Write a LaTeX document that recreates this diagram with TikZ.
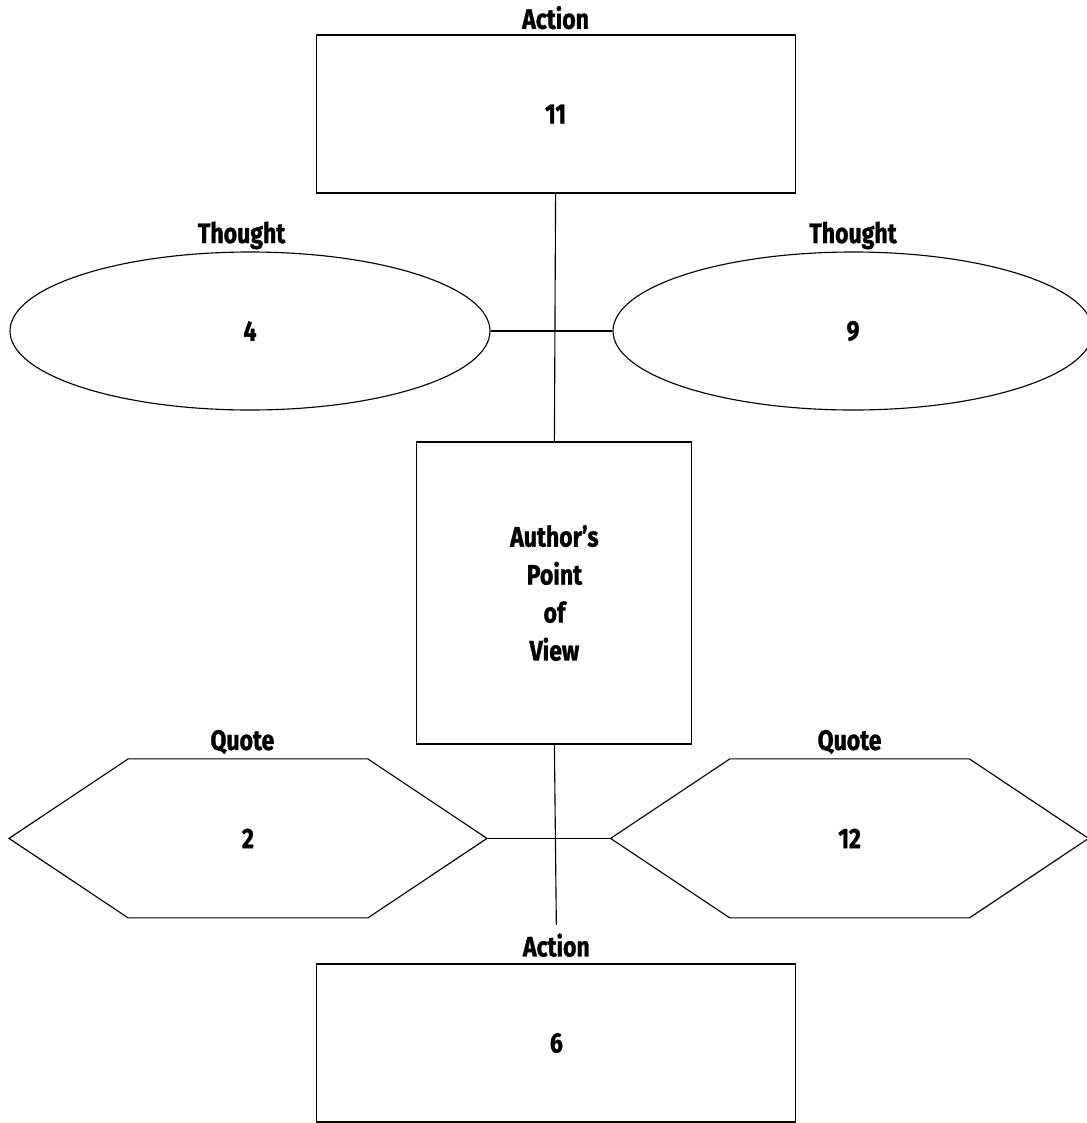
\documentclass[tikz,border=0pt]{standalone}
\usepackage{fontspec}
\setmainfont{Fira Sans}[FakeStretch=0.82, BoldFeatures={FakeBold=1.2}]
\usepackage{tikz}
\usetikzlibrary{shapes.geometric, shapes.symbols, positioning}

\tikzset{
  shapebase/.style={draw, line width=0.8pt, font=\bfseries\fontsize{20}{27}\selectfont, align=center},
  actbox/.style={shapebase, rectangle, minimum width=11.975cm, minimum height=3.95cm},
  thoughtell/.style={shapebase, ellipse, inner sep=0pt, minimum width=12cm, minimum height=3.95cm},
  quotehex/.style={shapebase, signal, signal to=east and west, signal pointer angle=67.4,
    inner sep=0pt, minimum width=11.95cm, minimum height=3.975cm},
  viewbox/.style={shapebase, rectangle, minimum width=6.875cm, minimum height=7.55cm},
  headtag/.style={font=\bfseries\fontsize{20}{24}\selectfont, inner sep=2pt, anchor=base},
  link/.style={line width=0.8pt}
}

\begin{document}
\begin{tikzpicture}
  \useasboundingbox (0,0) rectangle (27.15,-28.075);

  \node[actbox] (act1) at (13.89,-2.85) {11};
  \node[thoughtell] (th1) at (6.25,-8.275) {4};
  \node[thoughtell] (th2) at (21.325,-8.275) {9};
  \node[viewbox] (pov) at (13.86,-14.825) {Author's\\Point\\of\\View};
  \node[quotehex] (qt1) at (6.2,-20.96) {2};
  \node[quotehex] (qt2) at (21.24,-20.96) {12};
  \node[actbox] (act2) at (13.91,-26.075) {6};

  \node[headtag] (act1tag) at ([yshift=4pt]act1.north) {Action};
  \node[headtag] (th1tag) at ([xshift=-6pt, yshift=6pt]th1.north) {Thought};
  \node[headtag] (th2tag) at ([yshift=6pt]th2.north) {Thought};
  \node[headtag] (qt1tag) at ([xshift=-4pt, yshift=6pt]qt1.north) {Quote};
  \node[headtag] (qt2tag) at ([yshift=6pt]qt2.north) {Quote};
  \node[headtag] (act2tag) at ([yshift=5pt]act2.north) {Action};

  \draw[link] (act1.south) -- (pov.north);
  \draw[link] (th1.east) -- (th2.west);
  \draw[link] (qt1.east) -- (qt2.west);
  \draw[link, shorten >=4pt] (pov.south) -- (act2tag.north);
\end{tikzpicture}
\end{document}
